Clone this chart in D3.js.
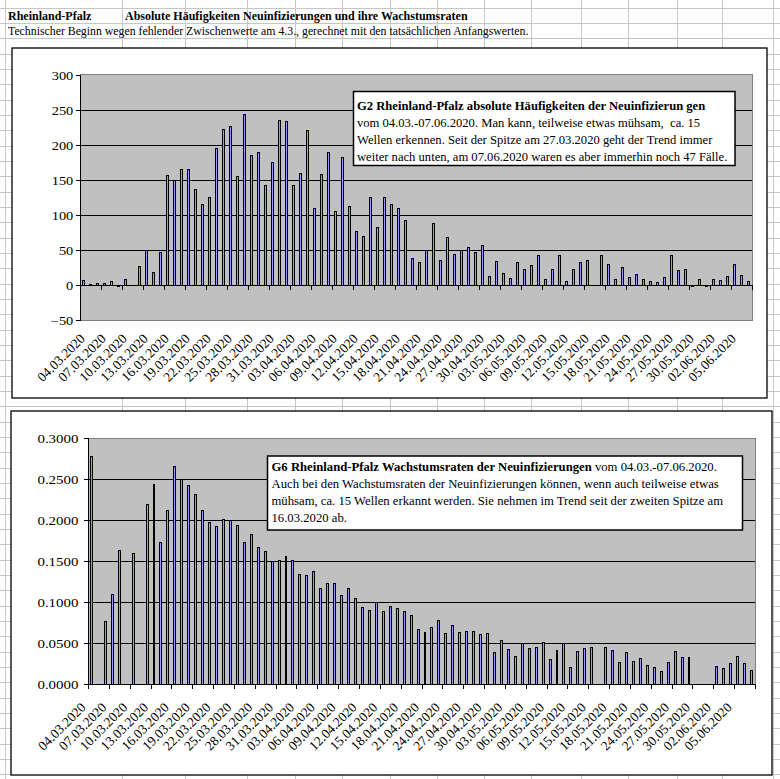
<!DOCTYPE html>
<html><head><meta charset="utf-8">
<script src="https://cdn.jsdelivr.net/npm/d3@7/dist/d3.min.js"></script>
<style>body{margin:0;background:#fff}svg{display:block}text{font-family:"Liberation Serif","Times New Roman",serif}</style>
</head><body>
<svg id="c" width="780" height="779"></svg>
<script>
const cats = ["04.03.2020","05.03.2020","06.03.2020","07.03.2020","08.03.2020","09.03.2020","10.03.2020","11.03.2020","12.03.2020","13.03.2020","14.03.2020","15.03.2020","16.03.2020","17.03.2020","18.03.2020","19.03.2020","20.03.2020","21.03.2020","22.03.2020","23.03.2020","24.03.2020","25.03.2020","26.03.2020","27.03.2020","28.03.2020","29.03.2020","30.03.2020","31.03.2020",
"01.04.2020","02.04.2020","03.04.2020","04.04.2020","05.04.2020","06.04.2020","07.04.2020","08.04.2020","09.04.2020","10.04.2020","11.04.2020","12.04.2020","13.04.2020","14.04.2020","15.04.2020","16.04.2020","17.04.2020","18.04.2020","19.04.2020","20.04.2020","21.04.2020","22.04.2020","23.04.2020","24.04.2020","25.04.2020","26.04.2020","27.04.2020","28.04.2020","29.04.2020","30.04.2020",
"01.05.2020","02.05.2020","03.05.2020","04.05.2020","05.05.2020","06.05.2020","07.05.2020","08.05.2020","09.05.2020","10.05.2020","11.05.2020","12.05.2020","13.05.2020","14.05.2020","15.05.2020","16.05.2020","17.05.2020","18.05.2020","19.05.2020","20.05.2020","21.05.2020","22.05.2020","23.05.2020","24.05.2020","25.05.2020","26.05.2020","27.05.2020","28.05.2020","29.05.2020","30.05.2020","31.05.2020",
"01.06.2020","02.06.2020","03.06.2020","04.06.2020","05.06.2020","06.06.2020","07.06.2020"];

const absValues = [7,1,3,3,6,-2,9,0,27,50,
 19,47,157,150,165,165,137,116,125,195,
 222,226,156,243,185,189,143,175,235,233,
 143,160,221,110,158,189,105,183,113,77,
 70,125,83,125,115,109,92,39,33,50,
 89,36,69,44,50,54,47,57,13,34,
 17,10,32,23,29,42,9,23,43,6,
 23,32,36,0,42,30,9,26,11,16,
 9,6,4,11,42,21,23,-2,9,-1,
 9,7,13,30,14,6];

const rateValues = [0.278,null,0.077,0.110,0.164,null,0.160,null,0.220,0.244,
 0.173,0.213,0.266,0.250,0.243,0.232,0.213,0.198,0.193,0.202,
 0.200,0.194,0.174,0.183,0.168,0.163,0.150,0.151,0.157,0.151,
 0.134,0.133,0.138,0.117,0.123,0.124,0.109,0.118,0.105,0.094,
 0.091,0.100,0.090,0.096,0.093,0.090,0.085,0.067,0.064,0.070,
 0.078,0.062,0.072,0.064,0.065,0.065,0.061,0.063,0.039,0.054,
 0.043,0.035,0.050,0.044,0.046,0.051,0.031,0.042,0.050,0.021,
 0.041,0.044,0.045,null,0.046,0.042,0.027,0.039,0.029,0.032,
 0.024,0.021,0.016,0.027,0.041,0.033,0.033,null,null,null,
 0.022,0.020,0.026,0.034,0.026,0.017];

const absTicks = [-50,0,50,100,150,200,250,300];
const rateTicks = [0,0.05,0.10,0.15,0.20,0.25,0.30];

const headerTitle = "Rheinland-Pfalz";
const headerSub = "Absolute Häufigkeiten Neuinfizierungen und ihre Wachstumsraten";
const headerNote = "Technischer Beginn wegen fehlender Zwischenwerte am 4.3., gerechnet mit den tatsächlichen Anfangswerten.";

const box1Lines = [
 [{t:"G2 Rheinland-Pfalz absolute Häufigkeiten der Neuinfizierun gen",b:true}],
 [{t:"vom 04.03.-07.06.2020. Man kann, teilweise etwas mühsam,  ca. 15",b:false}],
 [{t:"Wellen erkennen. Seit der Spitze am 27.03.2020 geht der Trend immer",b:false}],
 [{t:"weiter nach unten, am 07.06.2020 waren es aber immerhin noch 47 Fälle.",b:false}]
];
const box2Lines = [
 [{t:"G6 Rheinland-Pfalz Wachstumsraten der Neuinfizierungen",b:true},{t:" vom 04.03.-07.06.2020.",b:false}],
 [{t:"Auch bei den Wachstumsraten der Neuinfizierungen können, wenn auch teilweise etwas",b:false}],
 [{t:"mühsam, ca. 15 Wellen erkannt werden. Sie nehmen im Trend seit der zweiten Spitze am",b:false}],
 [{t:"16.03.2020 ab.",b:false}]
];

const svg = d3.select("#c");
svg.append("rect").attr("width",780).attr("height",779).attr("fill","#fff");

// spreadsheet grid
const colLines = [5,122,185,247,295,342,390,437,484,531,581,628,677,722,773];
const rowLines = d3.range(0,52).map(k => 8.3 + 15.33*k);
const grid = svg.append("g").attr("stroke","#c6c6c6").attr("stroke-width",1).attr("shape-rendering","crispEdges");
colLines.forEach(x => grid.append("line").attr("x1",x).attr("x2",x).attr("y1",0).attr("y2",779));
rowLines.forEach(y => grid.append("line").attr("x1",0).attr("x2",780).attr("y1",y).attr("y2",y));

// header
svg.append("text").attr("x",8).attr("y",20).attr("font-size",12).attr("font-weight","bold").text(headerTitle);
svg.append("text").attr("x",125).attr("y",20).attr("font-size",12).attr("font-weight","bold").text(headerSub);
svg.append("text").attr("x",8).attr("y",35).attr("font-size",11.8).text(headerNote);

function drawChart(cfg){
  const g = svg.append("g");
  g.append("rect").attr("x",cfg.frame[0]).attr("y",cfg.frame[1]).attr("width",cfg.frame[2]-cfg.frame[0]).attr("height",cfg.frame[3]-cfg.frame[1])
    .attr("fill","#fff").attr("stroke","#000").attr("stroke-width",1.3);
  const x = d3.scaleBand().domain(cats).range([cfg.left,cfg.right]).padding(0);
  const y = d3.scaleLinear().domain(cfg.domain).range([cfg.bottom,cfg.top]);
  // plot area
  g.append("rect").attr("x",cfg.left).attr("y",cfg.top).attr("width",cfg.right-cfg.left).attr("height",cfg.bottom-cfg.top)
    .attr("fill","#c0c0c0").attr("stroke","#808080").attr("stroke-width",1).attr("shape-rendering","crispEdges");
  // gridlines
  const gl = g.append("g").attr("stroke","#000").attr("shape-rendering","crispEdges");
  cfg.ticks.forEach(t => {
    if (t===cfg.domain[0] || t===cfg.domain[1]) return;
    const yy = Math.round(y(t))+0.5;
    gl.append("line").attr("x1",cfg.left).attr("x2",cfg.right).attr("y1",yy).attr("y2",yy);
  });
  // bars (pixel-snapped like the original renderer: 1px outline, 1px fill)
  const bars = g.append("g").attr("shape-rendering","crispEdges");
  const y0 = Math.round(y(0));
  cfg.values.forEach((v,i) => {
    if (v===null || v===0) return;
    const c = x(cats[i]) + x.bandwidth()/2;
    const a = c - 1.5 + cfg.barOff;
    const L = Math.round(a), R = Math.round(a+cfg.barW);
    const yv = Math.round(y(v));
    const top = Math.min(yv,y0), bot = Math.max(yv,y0)+1;
    bars.append("rect").attr("x",L).attr("y",top).attr("width",R-L).attr("height",Math.max(1,bot-top)).attr("fill","#000");
    if (R-L>=3 && bot-top>=3){
      bars.append("rect").attr("x",L+1).attr("y",top+1).attr("width",R-L-2).attr("height",bot-top-2).attr("fill","#9999ff");
    }
  });
  // x axis line
  const ax = g.append("g").attr("stroke","#000").attr("shape-rendering","crispEdges");
  ax.append("line").attr("x1",cfg.left).attr("x2",cfg.right).attr("y1",y0+0.5).attr("y2",y0+0.5);
  // y axis
  const yl = Math.round(cfg.left)+0.5;
  ax.append("line").attr("x1",yl).attr("x2",yl).attr("y1",cfg.top).attr("y2",cfg.bottom);
  cfg.ticks.forEach(t => {
    const yy = Math.round(y(t))+0.5;
    ax.append("line").attr("x1",yl-5).attr("x2",yl).attr("y1",yy).attr("y2",yy);
    g.append("text").attr("transform",`translate(${cfg.yLabX},${yy}) scale(${cfg.ySx},1)`).attr("dy","0.35em").attr("text-anchor","end")
      .attr("font-size",cfg.yFont).text(cfg.fmt(t));
  });
  // x ticks and labels
  cats.forEach((d,i) => {
    if (i%3===0){
      const xx = Math.round(x(d))+0.5;
      ax.append("line").attr("x1",xx).attr("x2",xx).attr("y1",y0).attr("y2",y0+5);
      const c = x(d)+x.bandwidth()/2;
      g.append("text").attr("transform",`translate(${c+cfg.lx},${cfg.bottom+cfg.ly}) rotate(-45)`)
        .attr("text-anchor","end").attr("font-size",cfg.xFont).text(d);
    }
  });
  const xe = Math.round(cfg.right)+0.5;
  ax.append("line").attr("x1",xe).attr("x2",xe).attr("y1",y0).attr("y2",y0+5);
  // text box
  const b = cfg.box;
  g.append("rect").attr("x",b.x0).attr("y",b.y0).attr("width",b.x1-b.x0).attr("height",b.y1-b.y0)
    .attr("fill","#fff").attr("stroke","#000").attr("stroke-width",1.5);
  b.lines.forEach((ln,k) => {
    const t = g.append("text").attr("x",b.tx).attr("y",b.ty + k*b.lh).attr("font-size",b.fs).attr("xml:space","preserve");
    ln.forEach(s => t.append("tspan").attr("font-weight",s.b?"bold":"normal").text(s.t));
  });
}

drawChart({
  frame:[12,48,767,398], left:80.3, right:752.3, top:74.5, bottom:320,
  domain:[-50,300], ticks:absTicks, fmt:d3.format("d"), values:absValues, yFont:12, ySx:1.2, yLabX:73.3,
  barOff:0.03, barW:2.95,
  lx:2, ly:19.5, xFont:13.5,
  box:{x0:353.5,y0:91.5,x1:735,y1:165.5,tx:357,ty:109.5,lh:17,fs:12.6,lines:box1Lines}
});
drawChart({
  frame:[11,411,772,775], left:88, right:755.03, top:438.3, bottom:684.3,
  domain:[0,0.3], ticks:rateTicks, fmt:d3.format(".4f"), values:rateValues, yFont:13, ySx:1.15, yLabX:78.5,
  barOff:0.022, barW:2.94,
  lx:-5, ly:24, xFont:13.5,
  box:{x0:267.5,y0:456,x1:742.5,y1:530,tx:271.5,ty:470.5,lh:17,fs:12.7,lines:box2Lines}
});
</script>
</body></html>
